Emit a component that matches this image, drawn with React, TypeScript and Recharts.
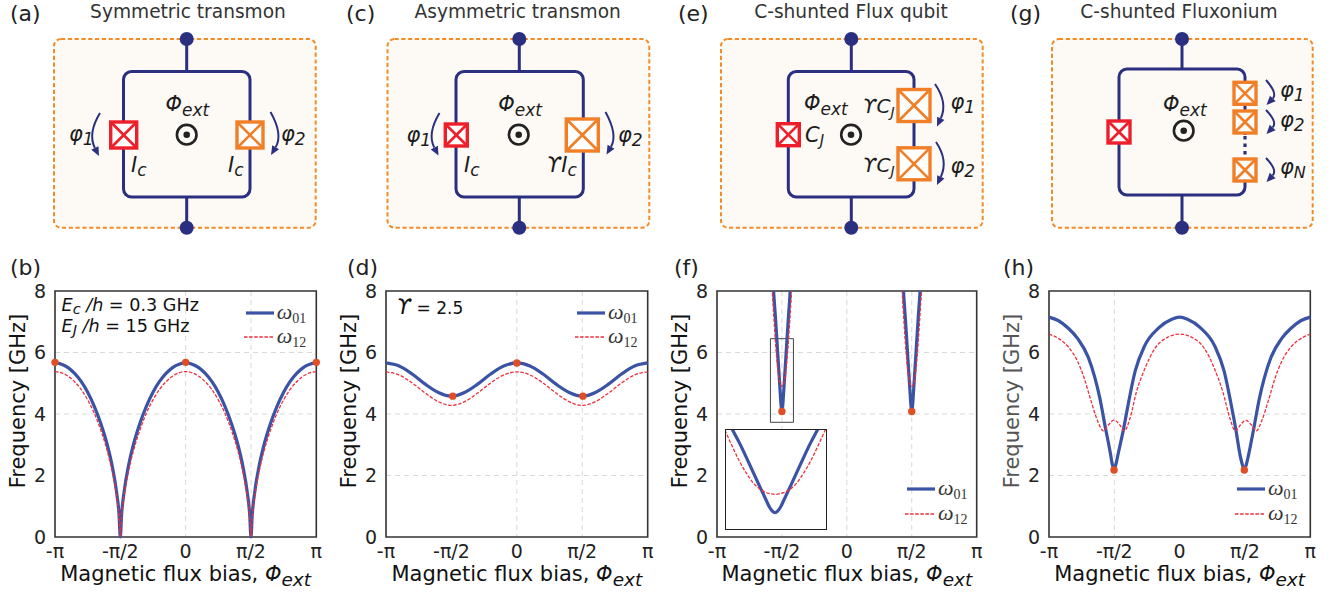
import React from "react";
import { ComposedChart, Line, Scatter, XAxis, YAxis, CartesianGrid, ReferenceArea, Legend, Label } from "recharts";

const xTicks = [-1, -0.5, 0, 0.5, 1];
const xTickLabels = ["-π", "-π/2", "0", "π/2", "π"];
const yTicks = [0, 2, 4, 6, 8];

const symX = [-1, -0.95, -0.9, -0.85, -0.8, -0.75, -0.7, -0.65, -0.6, -0.56, -0.53, -0.51, -0.5, -0.49, -0.47, -0.44, -0.4, -0.35, -0.3, -0.25, -0.2, -0.15, -0.1, -0.05, 0, 0.05, 0.1, 0.15, 0.2, 0.25, 0.3, 0.35, 0.4, 0.44, 0.47, 0.49, 0.5, 0.51, 0.53, 0.56, 0.6, 0.65, 0.7, 0.75, 0.8, 0.85, 0.9, 0.95, 1];
const symW01 = [5.66, 5.62, 5.51, 5.32, 5.06, 4.71, 4.26, 3.7, 3.0, 2.26, 1.5, 0.74, 0, 0.74, 1.5, 2.26, 3.0, 3.7, 4.26, 4.71, 5.06, 5.32, 5.51, 5.62, 5.66, 5.62, 5.51, 5.32, 5.06, 4.71, 4.26, 3.7, 3.0, 2.26, 1.5, 0.74, 0, 0.74, 1.5, 2.26, 3.0, 3.7, 4.26, 4.71, 5.06, 5.32, 5.51, 5.62, 5.66];
const symW12 = [5.38, 5.34, 5.23, 5.05, 4.8, 4.46, 4.03, 3.48, 2.8, 2.08, 1.36, 0.66, 0, 0.66, 1.36, 2.08, 2.8, 3.48, 4.03, 4.46, 4.8, 5.05, 5.23, 5.34, 5.38, 5.34, 5.23, 5.05, 4.8, 4.46, 4.03, 3.48, 2.8, 2.08, 1.36, 0.66, 0, 0.66, 1.36, 2.08, 2.8, 3.48, 4.03, 4.46, 4.8, 5.05, 5.23, 5.34, 5.38];
const symDotX = [-1, 0, 1];
const symDotY = [5.68, 5.68, 5.68];

const asymX = [-1, -0.9, -0.8, -0.7, -0.6, -0.5, -0.4, -0.3, -0.2, -0.1, 0, 0.1, 0.2, 0.3, 0.4, 0.5, 0.6, 0.7, 0.8, 0.9, 1];
const asymW01 = [5.66, 5.56, 5.3, 4.97, 4.7, 4.58, 4.7, 4.97, 5.3, 5.56, 5.66, 5.56, 5.3, 4.97, 4.7, 4.58, 4.7, 4.97, 5.3, 5.56, 5.66];
const asymW12 = [5.37, 5.27, 5.01, 4.68, 4.4, 4.28, 4.4, 4.68, 5.01, 5.27, 5.37, 5.27, 5.01, 4.68, 4.4, 4.28, 4.4, 4.68, 5.01, 5.27, 5.37];
const asymDotX = [-0.49, 0, 0.505];
const asymDotY = [4.58, 5.66, 4.58];

const csfqX01 = [-0.568, -0.56, -0.55, -0.54, -0.53, -0.52, -0.512, -0.508, -0.504, -0.5, -0.496, -0.492, -0.488, -0.48, -0.47, -0.46, -0.45, -0.44, -0.432, 0.432, 0.44, 0.45, 0.46, 0.47, 0.48, 0.488, 0.492, 0.496, 0.5, 0.504, 0.508, 0.512, 0.52, 0.53, 0.54, 0.55, 0.56, 0.568];
const csfqW01 = [8.25, 7.74, 7.15, 6.5, 5.82, 5.15, 4.62, 4.36, 4.18, 4.1, 4.18, 4.36, 4.62, 5.15, 5.82, 6.5, 7.15, 7.74, 8.25, 8.25, 7.74, 7.15, 6.5, 5.82, 5.15, 4.62, 4.36, 4.18, 4.1, 4.18, 4.36, 4.62, 5.15, 5.82, 6.5, 7.15, 7.74, 8.25];
const csfqX12 = [-0.576, -0.57, -0.56, -0.55, -0.54, -0.53, -0.52, -0.512, -0.506, -0.5, -0.494, -0.488, -0.48, -0.47, -0.46, -0.45, -0.44, -0.43, -0.424, 0.424, 0.43, 0.44, 0.45, 0.46, 0.47, 0.48, 0.488, 0.494, 0.5, 0.506, 0.512, 0.52, 0.53, 0.54, 0.55, 0.56, 0.57, 0.576];
const csfqW12 = [8.1, 7.68, 7.0, 6.35, 5.82, 5.38, 5.1, 4.97, 4.92, 4.9, 4.92, 4.97, 5.1, 5.38, 5.82, 6.35, 7.0, 7.68, 8.1, 8.1, 7.68, 7.0, 6.35, 5.82, 5.38, 5.1, 4.97, 4.92, 4.9, 4.92, 4.97, 5.1, 5.38, 5.82, 6.35, 7.0, 7.68, 8.1];
const csfqDotX = [-0.5, 0.5];
const csfqDotY = [4.08, 4.08];

const fluxX01 = [-1, -0.93, -0.85, -0.78, -0.7, -0.65, -0.61, -0.57, -0.53, -0.515, -0.502, -0.489, -0.47, -0.43, -0.39, -0.34, -0.27, -0.16, -0.06, 0, 0.06, 0.16, 0.27, 0.34, 0.39, 0.43, 0.46, 0.48, 0.495, 0.51, 0.53, 0.57, 0.61, 0.65, 0.7, 0.78, 0.85, 0.93, 1];
const fluxW01 = [7.15, 7.04, 6.78, 6.45, 5.85, 5.2, 4.5, 3.59, 2.72, 2.35, 2.2, 2.35, 2.72, 3.5, 4.4, 5.4, 6.2, 6.8, 7.08, 7.15, 7.08, 6.8, 6.2, 5.4, 4.4, 3.5, 2.72, 2.35, 2.2, 2.35, 2.72, 3.59, 4.5, 5.2, 5.85, 6.45, 6.78, 7.04, 7.15];
const fluxX12 = [-1, -0.93, -0.85, -0.78, -0.73, -0.68, -0.63, -0.584, -0.546, -0.502, -0.457, -0.424, -0.38, -0.33, -0.265, -0.19, -0.09, 0, 0.09, 0.19, 0.265, 0.33, 0.385, 0.426, 0.465, 0.505, 0.55, 0.587, 0.63, 0.68, 0.73, 0.78, 0.85, 0.93, 1];
const fluxW12 = [6.6, 6.46, 6.17, 5.7, 5.16, 4.45, 3.8, 3.45, 3.64, 3.8, 3.64, 3.45, 3.86, 4.73, 5.49, 6.13, 6.5, 6.6, 6.5, 6.13, 5.49, 4.73, 3.86, 3.45, 3.64, 3.8, 3.64, 3.45, 3.8, 4.45, 5.16, 5.7, 6.17, 6.46, 6.6];
const fluxDotX = [-0.502, 0.495];
const fluxDotY = [2.18, 2.18];

const SANS = "'DejaVu Sans', sans-serif";
const BLUE = "#3a53a4";
const RED = "#ee2f3c";
const DOT = "#e04e26";
const NAVY = "#2a2f7f";
const ORANGE = "#f07f27";
const JRED = "#ee1f2b";
const INK = "#1c1c1c";
const CHART_TOP = 279.7;

const rows = (xs: number[], ys: number[]) => xs.map((x, i) => ({ x, y: ys[i] }));

function renderLegend(props: any) {
  return (
    <div style={{ position: "relative", width: 90, height: 50 }}>
      {props.payload
        .filter((p: any) => p.value === "ω01" || p.value === "ω12")
        .map((p: any, i: number) => (
          <div key={p.value} style={{ position: "absolute", top: i * 24.3, left: 0, height: 24, width: 90 }}>
            <svg width={32} height={8} style={{ position: "absolute", left: 0, top: 8 }}>
              {i === 0 ? (
                <line x1={4} x2={32} y1={4} y2={4} stroke={BLUE} strokeWidth={3.2} />
              ) : (
                <line x1={2} x2={32} y1={4} y2={4} stroke={RED} strokeWidth={1.3} strokeDasharray="3.5 1.6" />
              )}
            </svg>
            <span
              style={{
                position: "absolute",
                left: 35,
                top: 0,
                fontFamily: "'Liberation Serif', serif",
                fontStyle: "italic",
                fontSize: 22,
                lineHeight: "22px",
                color: "#333",
              }}
            >
              ω
              <span style={{ fontStyle: "normal", fontSize: 14, position: "relative", top: 4 }}>{p.value.slice(1)}</span>
            </span>
          </div>
        ))}
    </div>
  );
}

function FluxPanel({ plotLeft, plotWidth, x01, w01, x12, w12, dotX, dotY, gridH, gridV, legendLeft, legendTop, labelColor, clip, box }: any) {
  const left = plotLeft - 50;
  const frameColor = "#333";
  return (
    <div style={{ position: "absolute", left, top: CHART_TOP }}>
      <ComposedChart width={plotWidth + 65} height={312} margin={{ top: 11, right: 15, bottom: 0, left: 0 }}>
        <CartesianGrid stroke="#d9d9d9" strokeDasharray="5 4" strokeWidth={1} horizontalValues={gridH} verticalValues={gridV} />
        <XAxis
          dataKey="x"
          type="number"
          domain={[-1, 1]}
          ticks={xTicks}
          interval={0}
          allowDataOverflow={clip}
          axisLine={false}
          tickLine={false}
          height={55}
          tickMargin={2}
          tick={{ fontFamily: SANS, fontSize: 19, fill: "#222" }}
          tickFormatter={(v: number) => xTickLabels[xTicks.indexOf(v)]}
        >
          <Label
            content={(p: any) => (
              <text x={p.viewBox.x + p.viewBox.width / 2} y={p.viewBox.y + 44.5} textAnchor="middle" fontFamily={SANS} fontSize={21} fill="#111">
                Magnetic flux bias, <tspan fontStyle="italic">Φ</tspan>
                <tspan fontStyle="italic" fontSize={18.5} dy={5}>ext</tspan>
              </text>
            )}
          />
        </XAxis>
        <YAxis
          dataKey="y"
          type="number"
          domain={[0, 8]}
          ticks={yTicks}
          interval={0}
          allowDataOverflow={clip}
          axisLine={false}
          tickLine={false}
          width={50}
          tickMargin={3}
          tick={{ fontFamily: SANS, fontSize: 19, fill: "#222" }}
        >
          <Label
            content={(p: any) => {
              const cx = 13;
              const cy = p.viewBox.y + p.viewBox.height / 2 - 13;
              return (
                <text x={cx} y={cy} transform={`rotate(-90 ${cx} ${cy})`} textAnchor="middle" dominantBaseline="central" fontFamily={SANS} fontSize={21} fill={labelColor || "#111"}>
                  Frequency [GHz]
                </text>
              );
            }}
          />
        </YAxis>
        <Line data={rows(x01, w01)} dataKey="y" name="ω01" type="monotone" stroke={BLUE} strokeWidth={3.2} dot={false} isAnimationActive={false} />
        <Line data={rows(x12, w12)} dataKey="y" name="ω12" type="monotone" stroke={RED} strokeWidth={1.3} strokeDasharray="3.5 1.6" dot={false} isAnimationActive={false} />
        <Scatter
          data={rows(dotX, dotY)}
          dataKey="y"
          legendType="none"
          isAnimationActive={false}
          shape={(p: any) => <circle cx={p.cx} cy={p.cy} r={3.7} fill={DOT} />}
        />
        {box && <ReferenceArea x1={box[0]} x2={box[1]} y1={box[2]} y2={box[3]} fill="none" stroke="#444" strokeWidth={1} ifOverflow="visible" />}
        <ReferenceArea x1={-1} x2={1} y1={0} y2={8} fill="none" stroke={frameColor} strokeWidth={1.6} ifOverflow="visible" />
        <Legend
          layout="horizontal"
          align="center"
          verticalAlign="middle"
          content={renderLegend}
          wrapperStyle={{ left: legendLeft - left, top: legendTop - CHART_TOP, width: 90, height: 50 }}
        />
      </ComposedChart>
    </div>
  );
}

function Inset() {
  return (
    <div style={{ position: "absolute", left: 724.5, top: 428.8, width: 100, height: 99.5, border: "1.5px solid #222", background: "#fff" }}>
      <ComposedChart width={100} height={99.5} margin={{ top: 0, right: 0, bottom: 0, left: 0 }}>
        <XAxis dataKey="x" type="number" hide domain={[-0.5686, -0.4286]} allowDataOverflow />
        <YAxis dataKey="y" type="number" hide domain={[3.37, 7.7]} allowDataOverflow />
        <Line data={rows(csfqX01, csfqW01)} dataKey="y" type="monotone" stroke={BLUE} strokeWidth={3.2} dot={false} isAnimationActive={false} />
        <Line data={rows(csfqX12, csfqW12)} dataKey="y" type="monotone" stroke={RED} strokeWidth={1.3} strokeDasharray="3.5 1.6" dot={false} isAnimationActive={false} />
      </ComposedChart>
    </div>
  );
}

// circuit drawing helpers, plain svg in page pixels
function Board({ x1, x2, node, loopL, loopR, loopT = 71.5, loopB = 197 }: any) {
  return (
    <g>
      <rect x={x1} y={39} width={x2 - x1} height={188.7} rx={7} fill="#fdfaf5" stroke="#f28c28" strokeWidth={2} strokeDasharray="4.2 2.6" />
      <rect x={loopL} y={loopT} width={loopR - loopL} height={loopB - loopT} rx={8} fill="none" stroke={NAVY} strokeWidth={3} />
      <line x1={node} x2={node} y1={39} y2={loopT} stroke={NAVY} strokeWidth={3} />
      <line x1={node} x2={node} y1={loopB} y2={227.7} stroke={NAVY} strokeWidth={3} />
      <circle cx={node} cy={39} r={7} fill={NAVY} />
      <circle cx={node} cy={227.7} r={7} fill={NAVY} />
    </g>
  );
}

function Junction({ x, y, s, color }: any) {
  const h = s / 2;
  return (
    <g>
      <rect x={x - h} y={y - h} width={s} height={s} fill="#fff" stroke={color} strokeWidth={3.4} />
      <line x1={x - h} y1={y - h} x2={x + h} y2={y + h} stroke={color} strokeWidth={2.6} />
      <line x1={x - h} y1={y + h} x2={x + h} y2={y - h} stroke={color} strokeWidth={2.6} />
    </g>
  );
}

function FluxDot({ x, y }: any) {
  return (
    <g>
      <circle cx={x} cy={y} r={9.8} fill="none" stroke="#222" strokeWidth={2.6} />
      <circle cx={x} cy={y} r={3.3} fill="#222" />
    </g>
  );
}

function Arrow({ x1, y1, bx, by, x2, y2 }: any) {
  // bx,by is the point the arc bulges through
  const cx = 2 * bx - (x1 + x2) / 2;
  const cy = 2 * by - (y1 + y2) / 2;
  const a = Math.atan2(y2 - cy, x2 - cx);
  const len = 9;
  const w = 4;
  const bxx = x2 - len * Math.cos(a);
  const byy = y2 - len * Math.sin(a);
  const head = `${x2},${y2} ${bxx - w * Math.sin(a)},${byy + w * Math.cos(a)} ${bxx + w * Math.sin(a)},${byy - w * Math.cos(a)}`;
  return (
    <g>
      <path d={`M${x1} ${y1} Q${cx} ${cy} ${bxx} ${byy}`} fill="none" stroke={NAVY} strokeWidth={2} />
      <polygon points={head} fill={NAVY} />
    </g>
  );
}

function Sym({ x, y, base, sub, size = 21, subSize = 17, dy = 4 }: any) {
  return (
    <text x={x} y={y} fontFamily={SANS} fontStyle="italic" fontSize={size} fill={INK}>
      {base}
      <tspan fontSize={subSize} dy={dy}>{sub}</tspan>
    </text>
  );
}

function PanelLabel({ x, y, children }: any) {
  return (
    <text x={x} y={y} fontFamily={SANS} fontSize={22} fill="#222">
      {children}
    </text>
  );
}

function Title({ x, children }: any) {
  return (
    <text x={x} y={18} textAnchor="middle" fontFamily={SANS} fontSize={18.6} fill="#333">
      {children}
    </text>
  );
}

function Overlay() {
  return (
    <svg width={1335} height={595} style={{ position: "absolute", left: 0, top: 0, pointerEvents: "none" }}>
      <PanelLabel x={10} y={21}>(a)</PanelLabel>
      <PanelLabel x={346} y={21}>(c)</PanelLabel>
      <PanelLabel x={678} y={21}>(e)</PanelLabel>
      <PanelLabel x={1010} y={21}>(g)</PanelLabel>
      <PanelLabel x={10} y={275}>(b)</PanelLabel>
      <PanelLabel x={347} y={275}>(d)</PanelLabel>
      <PanelLabel x={674} y={275}>(f)</PanelLabel>
      <PanelLabel x={1003} y={275}>(h)</PanelLabel>

      <Title x={188}>Symmetric transmon</Title>
      <Title x={517.7}>Asymmetric transmon</Title>
      <Title x={851}>C-shunted Flux qubit</Title>
      <Title x={1179}>C-shunted Fluxonium</Title>

      {/* (a) */}
      <Board x1={54} x2={315.7} node={186.7} loopL={123.5} loopR={250} />
      <Junction x={123.7} y={135} s={26} color={JRED} />
      <Junction x={250} y={135} s={26} color={ORANGE} />
      <FluxDot x={186.7} y={134.7} />
      <Sym x={165.5} y={111} base="Φ" sub="ext" dy={5} />
      <Sym x={69} y={141} base="φ" sub="1" />
      <Sym x={281} y={141} base="φ" sub="2" />
      <Sym x={131} y={172} base="I" sub="c" />
      <Sym x={228} y={172} base="I" sub="c" />
      <Arrow x1={100} y1={113} bx={93.5} by={134} x2={99} y2={156} />
      <Arrow x1={270.5} y1={112} bx={277} by={134} x2={271} y2={155} />

      {/* (c) */}
      <Board x1={387.5} x2={649.3} node={519.3} loopL={456} loopR={583.3} />
      <Junction x={456.3} y={135} s={22} color={JRED} />
      <Junction x={582.3} y={135} s={32} color={ORANGE} />
      <FluxDot x={518.7} y={134.7} />
      <Sym x={498.3} y={111} base="Φ" sub="ext" dy={5} />
      <Sym x={406.5} y={141.5} base="φ" sub="1" />
      <Sym x={618} y={141.5} base="φ" sub="2" />
      <Sym x={464} y={172} base="I" sub="c" />
      <Sym x={546.5} y={172} base="ϒI" sub="c" />
      <Arrow x1={439.5} y1={113} bx={433} by={134} x2={438.5} y2={155.5} />
      <Arrow x1={605.5} y1={112} bx={612} by={134} x2={606.5} y2={154.5} />

      {/* (e) */}
      <Board x1={721} x2={982.7} node={851.3} loopL={788.3} loopR={914} />
      <Junction x={788.3} y={134.7} s={22} color={JRED} />
      <Junction x={914} y={105.5} s={32} color={ORANGE} />
      <Junction x={914} y={163.8} s={32} color={ORANGE} />
      <FluxDot x={851} y={134.7} />
      <Sym x={804} y={110} base="Φ" sub="ext" dy={5} />
      <Sym x={805} y={141.5} base="C" sub="J" subSize={15} />
      <Sym x={862.5} y={113} base="ϒC" sub="J" size={20} subSize={14} />
      <Sym x={862.5} y={171.5} base="ϒC" sub="J" size={20} subSize={14} />
      <Sym x={950.5} y={109} base="φ" sub="1" />
      <Sym x={950.5} y={173} base="φ" sub="2" />
      <Arrow x1={935} y1={84} bx={942} by={104} x2={937} y2={126.5} />
      <Arrow x1={936} y1={142} bx={942.5} by={162} x2={937} y2={185} />

      {/* (g) */}
      <Board x1={1052} x2={1312.7} node={1182} loopL={1119} loopR={1245} loopT={69} loopB={195} />
      <line x1={1245} x2={1245} y1={135} y2={158} stroke="#fdfaf5" strokeWidth={5} />
      <line x1={1245} x2={1245} y1={136} y2={158} stroke={NAVY} strokeWidth={3.2} strokeDasharray="3.5 4" />
      <Junction x={1119} y={132} s={22} color={JRED} />
      <Junction x={1245} y={93.3} s={22} color={ORANGE} />
      <Junction x={1245} y={122} s={22} color={ORANGE} />
      <Junction x={1245} y={170} s={22} color={ORANGE} />
      <FluxDot x={1183.7} y={130.7} />
      <Sym x={1163} y={111} base="Φ" sub="ext" dy={5} />
      <Sym x={1280} y={97} base="φ" sub="1" />
      <Sym x={1280} y={127} base="φ" sub="2" />
      <Sym x={1280} y={174} base="φ" sub="N" subSize={16} />
      <Arrow x1={1266} y1={80} bx={1272} by={93} x2={1266.5} y2={105} />
      <Arrow x1={1266} y1={110} bx={1272} by={122} x2={1266.5} y2={134} />
      <Arrow x1={1266} y1={158} bx={1272} by={170} x2={1266.5} y2={182} />

      {/* plot annotations */}
      <text x={61.5} y={310.5} fontFamily={SANS} fontSize={17.6} fill="#111">
        <tspan fontStyle="italic">E</tspan>
        <tspan fontStyle="italic" fontSize={14.5} dy={3}>c</tspan>
        <tspan fontStyle="italic" dy={-3}> /h</tspan> = 0.3 GHz
      </text>
      <text x={61.5} y={331.5} fontFamily={SANS} fontSize={17.6} fill="#111">
        <tspan fontStyle="italic">E</tspan>
        <tspan fontStyle="italic" fontSize={14.5} dy={3}>J</tspan>
        <tspan fontStyle="italic" dy={-3}> /h</tspan> = 15 GHz
      </text>
      <text x={396.5} y={314} fontFamily={SANS} fontSize={17} fill="#111">
        <tspan fontStyle="italic" fontSize={21}>ϒ</tspan> = 2.5
      </text>
    </svg>
  );
}

export default function App() {
  return (
    <div style={{ position: "absolute", left: 0, top: 0, width: 1335, height: 595, background: "#fff" }}>
      <FluxPanel plotLeft={54.7} plotWidth={261.3} x01={symX} w01={symW01} x12={symX} w12={symW12} dotX={symDotX} dotY={symDotY} gridH={[4, 6]} gridV={[0, 0.5]} legendLeft={241.7} legendTop={301} />
      <FluxPanel plotLeft={386} plotWidth={261.7} x01={asymX} w01={asymW01} x12={asymX} w12={asymW12} dotX={asymDotX} dotY={asymDotY} gridH={[2, 4]} gridV={[0, 0.5]} legendLeft={573} legendTop={301} />
      <FluxPanel plotLeft={717.3} plotWidth={259.7} x01={csfqX01} w01={csfqW01} x12={csfqX12} w12={csfqW12} dotX={csfqDotX} dotY={csfqDotY} gridH={[4, 6]} gridV={[-0.5, 0, 0.5]} legendLeft={903} legendTop={477.5} clip box={[-0.5886, -0.4114, 3.73, 6.45]} />
      <FluxPanel plotLeft={1048.7} plotWidth={261.3} x01={fluxX01} w01={fluxW01} x12={fluxX12} w12={fluxW12} dotX={fluxDotX} dotY={fluxDotY} gridH={[2, 4]} gridV={[-0.5]} legendLeft={1233} legendTop={477.5} labelColor="#555" />
      <Inset />
      <Overlay />
    </div>
  );
}
